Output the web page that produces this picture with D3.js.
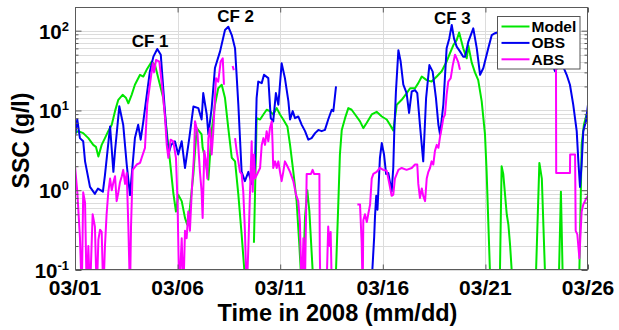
<!DOCTYPE html>
<html>
<head>
<meta charset="utf-8">
<script src="https://cdn.jsdelivr.net/npm/d3@7"></script>
<style>
  html, body { margin: 0; padding: 0; background: #fff; }
  svg { display: block; font-family: "Liberation Sans", Arial, sans-serif; }
</style>
</head>
<body>
<div id="chart"></div>
<script>
// ============================================
// SSC time series — Model / OBS / ABS (log scale)
// ============================================

// x = day of March 2008 (fractional), y = SSC in g/l; null breaks the line
const modelSeries = [
    [1.00,5.2],[1.16,5.5],[1.40,5.2],[1.65,4.5],[1.89,3.7],[2.02,3.5],[2.14,2.65],[2.30,3.7],[2.46,4.5],
    [2.62,5.5],[2.79,6.6],[2.95,9.8],[3.11,13.6],[3.32,15.7],[3.49,14.3],[3.60,12.3],[3.76,15.7],[3.92,21],
    [4.17,28],[4.33,26.6],[4.49,32.3],[4.74,41],[4.90,37],[5.06,25.4],[5.30,14.3],[5.47,5.5],[5.63,2.3],
    [5.79,0.93],[5.92,0.54],[6.03,0.88],[6.20,0.73],[6.36,0.45],[6.47,0.37],[6.60,0.6],[6.77,1.6],[6.93,6],
    [7.17,5],[7.22,3.4],[7.34,2.55],[7.50,1.36],[7.66,5.5],[7.82,11.8],[7.98,19],[8.15,21],[8.31,14.3],
    [8.47,6],[8.64,2.55],[8.80,2.3],[8.96,0.88],[9.12,0.28],[9.28,0.08],[9.40,0.03],[9.60,null],
    [9.72,0.22],[9.82,3.2],[9.85,8],[10.02,7.7],[10.18,8.9],[10.34,10.2],[10.50,9.8],[10.66,8.9],[10.83,10.7],
    [10.99,8.9],[11.15,7.7],[11.35,6.3],[11.48,3.7],[11.64,1.7],[11.80,0.73],[11.93,0.21],[12.00,0.1],[12.06,0.03],
    [12.21,0.46],[12.32,1.0],[12.42,0.55],[12.58,0.1],[12.65,0.03],[13.70,0.03],[13.72,0.1],[13.83,0.66],
    [13.91,2.8],[14.00,5.7],[14.16,8],[14.32,10.7],[14.48,10.2],[14.65,8.9],[14.89,7.3],[15.05,6],[15.22,7],
    [15.46,8.9],[15.70,9.6],[15.95,8.4],[16.19,7.7],[16.35,6.6],[16.51,5.6],[16.68,11.8],[16.92,13.6],[17.13,16],
    [17.33,19],[17.57,19],[17.73,22],[17.90,26.6],[18.14,24],[18.38,23],[18.63,26.6],[18.87,31],[19.11,41],
    [19.27,52],[19.44,66],[19.60,76],[19.72,95],[19.92,60],[20.09,45],[20.17,65],[20.33,40],[20.49,30],
    [20.65,24],[20.82,13],[20.98,5],[21.06,1.7],[21.14,0.41],[21.22,0.1],[21.30,0.03],[21.68,0.03],[21.71,0.1],
    [21.79,2.0],[21.87,1.6],[22.04,0.5],[22.12,0.37],[22.20,0.21],[22.28,0.1],[22.33,0.03],[23.42,0.03],
    [23.47,0.1],[23.63,2.2],[23.75,1.4],[23.90,0.1],[23.95,0.03],[24.55,0.03],[24.59,0.1],[24.68,0.96],
    [24.76,0.1],[24.80,0.03],[25.55,0.03],[25.58,0.1],[25.64,0.66],[25.69,3.7],[25.80,6.6],[25.93,8.9],[26.00,9.8]
];

const obsSeries = [
    [1.00,4.7],[1.11,7.7],[1.24,4.5],[1.40,4.1],[1.49,2.3],[1.73,1.1],[1.97,0.9],[2.12,1.05],[2.36,0.96],
    [2.46,1.55],[2.71,6.3],[2.87,1.7],[2.95,3.1],[3.16,11.3],[3.35,6.6],[3.52,2.1],[3.68,0.87],[3.92,4.5],
    [4.08,6.6],[4.20,4.3],[4.33,7.3],[4.52,17.3],[4.65,30.8],[4.82,47.3],[5.01,59],[5.18,50],[5.30,19],
    [5.43,6.6],[5.55,2.8],[5.68,3.7],[5.87,4.1],[6.03,2.8],[6.20,4.1],[6.36,1.9],[6.57,4.5],[6.77,11.2],
    [7.01,10.7],[7.17,7.7],[7.25,16.5],[7.42,8.9],[7.50,5],[7.66,10.7],[7.82,34],[8.07,55],[8.31,102],
    [8.47,112],[8.64,88],[8.80,60],[8.96,11.8],[9.12,1.7],[9.28,1.3],[9.45,1.7],[9.61,1.2],[9.77,1.9],
    [9.85,14.3],[9.93,23],[10.10,22],[10.21,28],[10.42,25.4],[10.54,8],[10.66,7.3],[10.79,16.5],[10.91,11.8],
    [11.07,39],[11.23,25.4],[11.40,13],[11.48,7.7],[11.61,9.8],[11.72,8],[11.88,8.4],[12.05,6.6],[12.21,5.5],
    [12.37,4.3],[12.53,4.5],[12.70,5.2],[12.86,5.7],[13.02,5.5],[13.18,5.7],[13.34,7.7],[13.51,10.2],
    [13.59,9.8],[13.72,20],[14.50,null],
    [15.46,0.05],[15.49,0.1],[15.58,0.26],[15.62,0.47],[15.68,0.85],[15.74,0.57],[15.86,2.55],[15.95,3.9],
    [16.06,2.8],[16.16,1.6],[16.27,1.64],[16.43,0.96],[16.51,1.9],[16.56,5.5],[16.64,17.3],[16.76,57],
    [16.87,41],[17.00,21],[17.16,16.5],[17.28,9.3],[17.41,17.3],[17.57,18],[17.68,16.5],[17.81,6.6],
    [17.97,2.3],[18.11,14.3],[18.27,37],[18.43,30.7],[18.59,14.3],[18.71,6.6],[18.79,5],[18.95,11.8],
    [19.11,60],[19.24,80],[19.36,118],[19.47,80],[19.60,63],[19.76,55],[19.92,47],[20.01,47],[20.17,73],
    [20.41,107],[20.58,60],[20.74,28],[20.90,34],[21.14,60],[21.31,88],[21.47,93],[21.58,95],[22.0,100],
    [22.5,90],[23.0,85],[23.5,90],[24.0,60],[24.39,31],[24.55,35.5],[24.80,35],[24.96,28],[25.12,21],
    [25.28,11.8],[25.45,5.5],[25.53,2.3],[25.61,1.1],[25.69,2.1],[25.77,5.5],[25.90,7.3],[26.00,11.8]
];

const absSeries = [
    [1.00,2.0],[1.11,0.96],[1.24,0.26],[1.33,0.05],[1.40,0.94],[1.49,0.7],[1.57,0.05],[1.65,0.2],[1.73,0.05],
    [1.86,0.5],[1.97,0.35],[2.06,0.05],[2.14,0.24],[2.22,0.32],[2.30,0.3],[2.38,0.05],[2.46,0.2],[2.54,0.5],
    [2.62,0.93],[2.71,1.4],[2.79,1.0],[2.87,1.25],[2.95,1.5],[3.03,0.73],[3.11,0.93],[3.19,1.25],[3.28,1.5],
    [3.35,1.8],[3.44,1.2],[3.52,1.64],[3.60,0.35],[3.68,0.05],[3.73,0.35],[3.81,1.8],[4.01,2.1],[4.17,2.2],
    [4.25,2.55],[4.41,3.4],[4.52,11.8],[4.65,21],[4.79,39],[4.85,30],[4.95,43],[5.11,41],[5.27,17.3],
    [5.39,8],[5.47,3.7],[5.55,2.55],[5.66,4.3],[5.79,4.1],[5.92,2.55],[6.00,0.66],[6.08,0.05],[6.20,0.25],
    [6.28,0.05],[6.36,0.31],[6.44,0.25],[6.52,0.54],[6.60,0.31],[6.69,0.96],[6.80,2.8],[6.85,7.3],[6.96,5.5],
    [7.09,1.7],[7.17,0.96],[7.22,0.45],[7.30,3.1],[7.38,2.3],[7.45,1.4],[7.50,4.5],[7.58,6],[7.66,2.8],
    [7.74,5.5],[7.87,25.4],[7.98,23],[8.10,41],[8.20,45],[8.26,21],[8.45,null],
    [8.68,36],[8.74,32],[8.77,null],
    [8.80,4.5],[8.88,3.1],[8.96,2.3],[9.04,1.7],[9.12,1.6],[9.20,0.96],[9.28,0.31],[9.37,0.05],[9.45,0.2],
    [9.53,0.96],[9.61,4.1],[9.66,0.96],[9.72,2.8],[9.77,1.4],[9.88,1.6],[10.02,1.9],[10.10,3.7],[10.18,4.5],
    [10.26,3.7],[10.34,5.5],[10.42,4.1],[10.50,6],[10.59,7.3],[10.63,3.7],[10.66,1.9],[10.75,2.3],[10.83,1.9],
    [10.91,2.3],[10.99,1.7],[11.07,1.3],[11.15,1.7],[11.23,2.3],[11.35,2.0],[11.48,1.7],[11.64,1.3],
    [11.77,0.88],[11.88,0.73],[11.96,0.4],[12.05,0.05],[12.13,0.25],[12.20,0.05],[12.27,0.7],[12.29,1.6],
    [12.50,1.6],[12.58,1.8],[12.65,1.6],[12.91,1.6],[12.93,0.17],[12.96,0.05],[13.25,0.05],[13.34,0.35],
    [13.40,0.2],[13.46,0.3],[13.52,0.05],[13.59,0.05],[14.20,null],
    [14.76,0.66],[14.89,0.66],[14.97,0.22],[15.02,0.05],[15.05,0.42],[15.13,0.5],[15.22,0.4],[15.29,0.5],
    [15.38,0.66],[15.46,1.4],[15.54,1.6],[15.70,1.7],[15.86,1.9],[16.02,1.8],[16.19,1.75],[16.32,1.2],
    [16.43,0.85],[16.51,0.88],[16.59,1.4],[16.76,1.8],[16.92,1.9],[17.16,1.8],[17.41,1.9],[17.57,2.1],
    [17.68,2.1],[17.73,1.2],[17.81,0.8],[17.90,1.05],[17.97,0.85],[18.06,0.73],[18.14,1.4],[18.22,1.7],
    [18.30,1.9],[18.38,2.3],[18.46,2.1],[18.54,3.1],[18.63,3.7],[18.71,3.4],[18.79,4.7],[18.87,6],[18.95,8],
    [19.03,8.9],[19.11,15.7],[19.19,23],[19.31,25.4],[19.41,37],[19.52,50],[19.60,45],[19.68,40],[19.76,32.3],
    [20.5,null],
    [24.44,34],[24.45,1.64],[25.12,1.64],[25.13,2.8],[25.37,2.8],[25.40,0.31],[25.48,0.28],[25.58,0.14],
    [25.64,0.3],[25.69,0.54],[25.77,0.66],[25.85,0.73],[25.93,0.8],[26.00,0.85]
];

const seriesNames = ['Model', 'OBS', 'ABS'];
const seriesColors = ['#00e600', '#0000f0', '#ff00ff'];

const tickDays = [1, 6, 11, 16, 21, 26];
const tickLabels = ['03/01', '03/06', '03/11', '03/16', '03/21', '03/26'];
const yDecades = [0.1, 1, 10, 100];
const yExponents = ['-1', '0', '1', '2'];

// storm events
const eventLabels = ['CF 1', 'CF 2', 'CF 3'];
const eventDays = [4.66, 8.83, 19.39];
const eventValues = [63, 130, 122];

// --------------------------------------------
const width = 619, height = 330;
const margin = { top: 7, right: 31, bottom: 60, left: 75 };

const svg = d3.select('#chart')
    .append('svg')
    .attr('width', width)
    .attr('height', height);

const x = d3.scaleLinear()
    .domain([1, 26])
    .range([margin.left, width - margin.right]);

const y = d3.scaleLog()
    .domain([0.1, 198])
    .range([height - margin.bottom, margin.top]);

const [x0, x1] = x.range();
const [y0, y1] = y.range();

// Grid: minor + major horizontal lines, vertical lines at date ticks
const yMinor = [];
yDecades.forEach(d => {
    for (let k = 1; k <= 9; k++) {
        const v = d * k;
        if (v <= 198) yMinor.push(v);
    }
});

svg.append('g')
    .selectAll('line')
    .data(yMinor)
    .enter()
    .append('line')
    .attr('x1', x0).attr('x2', x1)
    .attr('y1', d => Math.round(y(d)) + 0.5)
    .attr('y2', d => Math.round(y(d)) + 0.5)
    .style('stroke', '#dcdcdc')
    .style('stroke-width', 1);

svg.append('g')
    .selectAll('line')
    .data(tickDays.slice(1, -1))
    .enter()
    .append('line')
    .attr('x1', d => Math.round(x(d)) + 0.5)
    .attr('x2', d => Math.round(x(d)) + 0.5)
    .attr('y1', y1).attr('y2', y0)
    .style('stroke', '#dcdcdc')
    .style('stroke-width', 1);

// Series lines, clipped to the plot box
svg.append('clipPath')
    .attr('id', 'plot-clip')
    .append('rect')
    .attr('x', x0).attr('y', y1)
    .attr('width', x1 - x0).attr('height', y0 - y1);

const line = d3.line()
    .defined(d => d[1] != null)
    .x(d => x(d[0]))
    .y(d => y(Math.max(d[1], 0.02)));

const plot = svg.append('g').attr('clip-path', 'url(#plot-clip)');
[modelSeries, obsSeries, absSeries].forEach((data, i) => {
    plot.append('path')
        .datum(data)
        .attr('d', line)
        .style('fill', 'none')
        .style('stroke', seriesColors[i])
        .style('stroke-width', 2)
        .style('stroke-linejoin', 'round');
});

// Axes box with inward ticks (left/right and top/bottom)
const axisColor = '#5a5a5a';
const leftAxis = d3.axisRight(y).tickValues(yMinor).tickFormat('').tickSizeOuter(0)
    .tickSize(3);
const rightAxis = d3.axisLeft(y).tickValues(yMinor).tickFormat('').tickSizeOuter(0)
    .tickSize(3);

const gl = svg.append('g').attr('transform', `translate(${x0 + 0.5},0)`).call(leftAxis);
const gr = svg.append('g').attr('transform', `translate(${x1 - 0.5},0)`).call(rightAxis);
[gl, gr].forEach(g => {
    g.selectAll('line').style('stroke', axisColor);
    g.selectAll('.tick').filter(d => yDecades.includes(d)).select('line')
        .attr('x2', g === gl ? 6 : -6);
    g.select('.domain').remove();
});

const bottomAxis = d3.axisTop(x).tickValues(tickDays).tickFormat('').tickSize(5).tickSizeOuter(0);
const topAxis = d3.axisBottom(x).tickValues(tickDays).tickFormat('').tickSize(5).tickSizeOuter(0);
[svg.append('g').attr('transform', `translate(0,${y0 - 0.5})`).call(bottomAxis),
 svg.append('g').attr('transform', `translate(0,${y1 + 0.5})`).call(topAxis)].forEach(g => {
    g.selectAll('line').style('stroke', axisColor);
    g.select('.domain').remove();
});

svg.append('rect')
    .attr('x', x0 + 0.5).attr('y', y1 + 0.5)
    .attr('width', x1 - x0 - 1).attr('height', y0 - y1 - 1)
    .style('fill', 'none')
    .style('stroke', axisColor)
    .style('stroke-width', 1);

// Tick labels
const yLabels = svg.append('g')
    .selectAll('text')
    .data(yDecades)
    .enter()
    .append('text')
    .attr('x', 69)
    .attr('y', d => y(d) + 8)
    .attr('text-anchor', 'end')
    .style('font-weight', 'bold')
    .style('font-size', '20.5px')
    .style('fill', '#000');
yLabels.append('tspan').text('10');
yLabels.append('tspan')
    .attr('dy', -8)
    .style('font-size', '13px')
    .text((d, i) => yExponents[i]);

svg.append('g')
    .selectAll('text')
    .data(tickDays)
    .enter()
    .append('text')
    .attr('x', d => x(d))
    .attr('y', 295)
    .attr('text-anchor', 'middle')
    .style('font-weight', 'bold')
    .style('font-size', '21px')
    .text((d, i) => tickLabels[i]);

// Axis titles
svg.append('text')
    .attr('x', (x0 + x1) / 2 + 6)
    .attr('y', 321)
    .attr('text-anchor', 'middle')
    .style('font-weight', 'bold')
    .style('font-size', '23.5px')
    .text('Time in 2008 (mm/dd)');

svg.append('text')
    .attr('transform', `translate(29,${(y0 + y1) / 2 + 2}) rotate(-90)`)
    .attr('text-anchor', 'middle')
    .style('font-weight', 'bold')
    .style('font-size', '23px')
    .text('SSC (g/l)');

// Event labels
svg.append('g')
    .selectAll('text')
    .data(eventLabels)
    .enter()
    .append('text')
    .attr('x', (d, i) => x(eventDays[i]))
    .attr('y', (d, i) => y(eventValues[i]))
    .attr('text-anchor', 'middle')
    .style('font-weight', 'bold')
    .style('font-size', '17px')
    .text(d => d);

// Legend
const legend = svg.append('g').attr('transform', 'translate(497.5,16.5)');
legend.append('rect')
    .attr('width', 82.5).attr('height', 52.5)
    .style('fill', '#fff')
    .style('stroke', '#555')
    .style('stroke-width', 1);

seriesNames.forEach((name, i) => {
    const ly = 10 + i * 16.4;
    legend.append('line')
        .attr('x1', 4).attr('x2', 32)
        .attr('y1', ly).attr('y2', ly)
        .style('stroke', seriesColors[i])
        .style('stroke-width', 2);
    legend.append('text')
        .attr('x', 34)
        .attr('y', ly + 5.5)
        .style('font-weight', 'bold')
        .style('font-size', '15.5px')
        .text(name);
});
</script>
</body>
</html>
